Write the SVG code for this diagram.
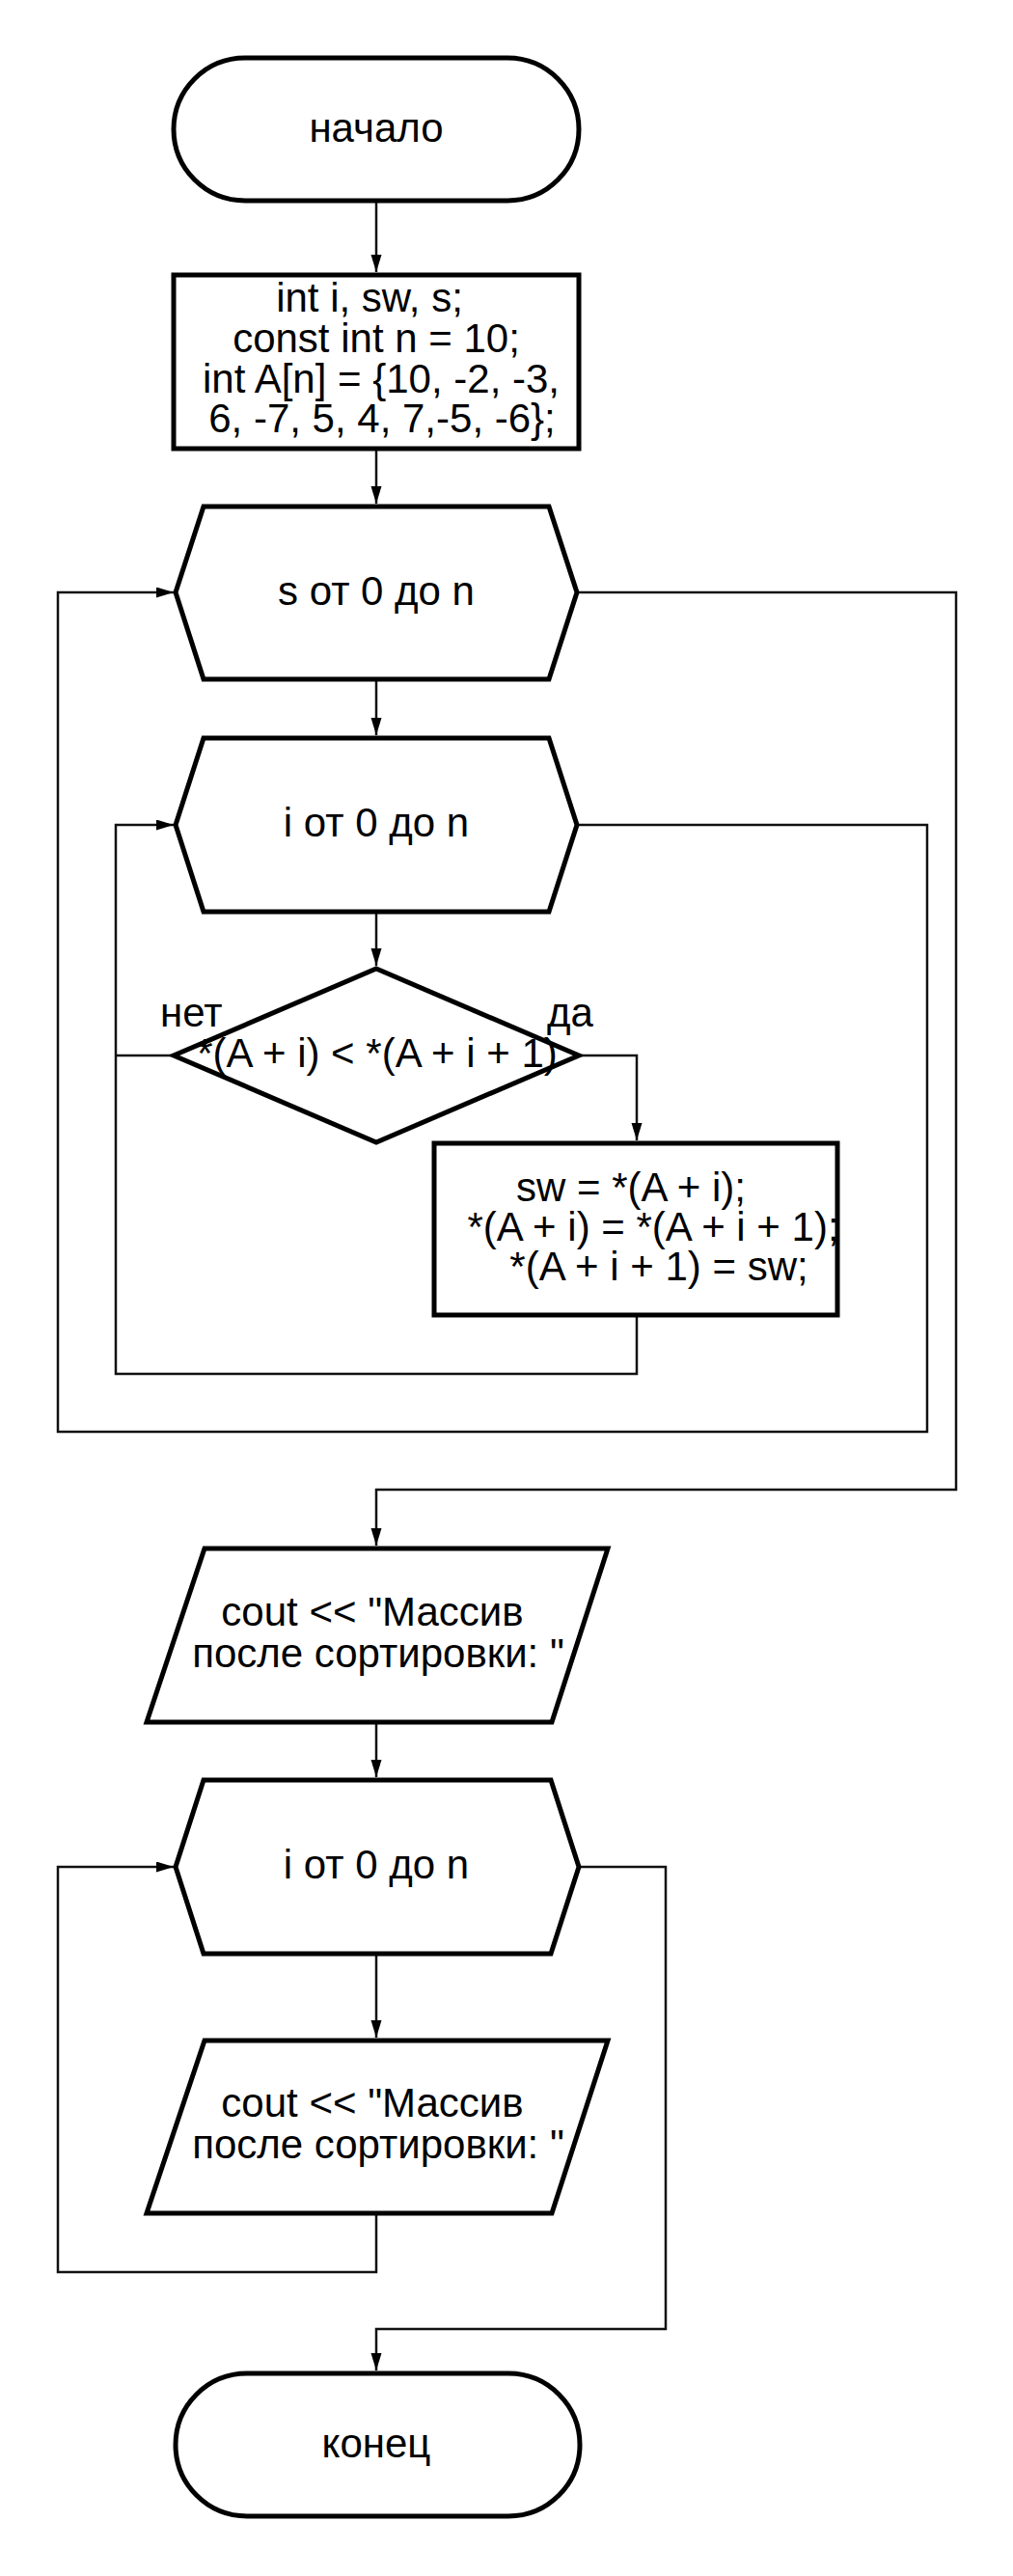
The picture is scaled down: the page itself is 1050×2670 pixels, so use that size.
<svg xmlns="http://www.w3.org/2000/svg" width="1050" height="2670" viewBox="0 0 1050 2670">
<defs>
<marker id="arr" markerUnits="userSpaceOnUse" markerWidth="20" markerHeight="12" refX="18" refY="5.5" orient="auto">
<path d="M0,0 L18,5.5 L0,11 Z" fill="#000"/>
</marker>
<style>
.s{fill:#fff;stroke:#000;stroke-width:5;stroke-linejoin:miter}
.t{font-family:"Liberation Sans",Arial,sans-serif;font-size:42px;fill:#000;text-anchor:middle}
.l{font-family:"Liberation Sans",Arial,sans-serif;font-size:42px;fill:#000}
.c{fill:none;stroke:#111;stroke-width:2.5}
.a{marker-end:url(#arr)}
</style>
</defs>
<rect width="1050" height="2670" fill="#fff"/>
<g id="connectors">
<path class="c a" d="M390,210 L390,282"/>
<path class="c a" d="M390,467 L390,522"/>
<path class="c a" d="M390,704 L390,762"/>
<path class="c a" d="M390,945 L390,1001"/>
<path class="c" d="M180,1094 L120,1094"/>
<path class="c a" d="M600,1094 L660,1094 L660,1182"/>
<path class="c a" d="M660,1363 L660,1424 L120,1424 L120,855 L180,855"/>
<path class="c a" d="M598,855 L961,855 L961,1484 L60,1484 L60,614 L180,614"/>
<path class="c a" d="M598,614 L991,614 L991,1544 L390,1544 L390,1602"/>
<path class="c a" d="M390,1785 L390,1842"/>
<path class="c a" d="M390,2025 L390,2112"/>
<path class="c a" d="M390,2294 L390,2355 L60,2355 L60,1935 L180,1935"/>
<path class="c a" d="M600,1935 L690,1935 L690,2414 L390,2414 L390,2457"/>
</g>
<g id="start">
<rect class="s" x="180" y="60" width="420" height="148" rx="74" ry="74"/>
<text class="t" x="390" y="147">начало</text>
</g>
<g id="init">
<rect class="s" x="180" y="285" width="420" height="180"/>
<text class="t" x="383" y="323">int i, sw, s;</text>
<text class="t" x="390" y="365">const int n = 10;</text>
<text class="t" x="395" y="407">int A[n] = {10, -2, -3,</text>
<text class="t" x="396" y="448">6, -7, 5, 4, 7,-5, -6};</text>
</g>
<g id="loop-s">
<polygon class="s" points="211,525 569,525 598,614 569,704 211,704 182,614"/>
<text class="t" x="390" y="627">s от 0 до n</text>
</g>
<g id="loop-i">
<polygon class="s" points="211,765 569,765 598,855 569,945 211,945 182,855"/>
<text class="t" x="390" y="867">i от 0 до n</text>
</g>
<g id="cond">
<polygon class="s" points="390,1004 600,1094 390,1184 180,1094"/>
<text class="t" x="391" y="1106">*(A + i) &lt; *(A + i + 1)</text>
<text class="l" x="166" y="1064">нет</text>
<text class="l" x="567" y="1064">да</text>
</g>
<g id="swap">
<rect class="s" x="450" y="1185" width="418" height="178"/>
<text class="t" x="654" y="1245">sw = *(A + i);</text>
<text class="t" x="677" y="1286">*(A + i) = *(A + i + 1);</text>
<text class="t" x="683" y="1327">*(A + i + 1) = sw;</text>
</g>
<g id="out1">
<polygon class="s" points="212,1605 630,1605 572,1785 152,1785"/>
<text class="t" x="386" y="1685">cout &lt;&lt; "Массив</text>
<text class="t" x="392" y="1728">после сортировки: "</text>
</g>
<g id="loop-i2">
<polygon class="s" points="211,1845 571,1845 600,1935 571,2025 211,2025 182,1935"/>
<text class="t" x="390" y="1947">i от 0 до n</text>
</g>
<g id="out2">
<polygon class="s" points="212,2115 630,2115 572,2294 152,2294"/>
<text class="t" x="386" y="2194">cout &lt;&lt; "Массив</text>
<text class="t" x="392" y="2237">после сортировки: "</text>
</g>
<g id="end">
<rect class="s" x="182" y="2460" width="419" height="148" rx="74" ry="74"/>
<text class="t" x="390" y="2547">конец</text>
</g>
</svg>
